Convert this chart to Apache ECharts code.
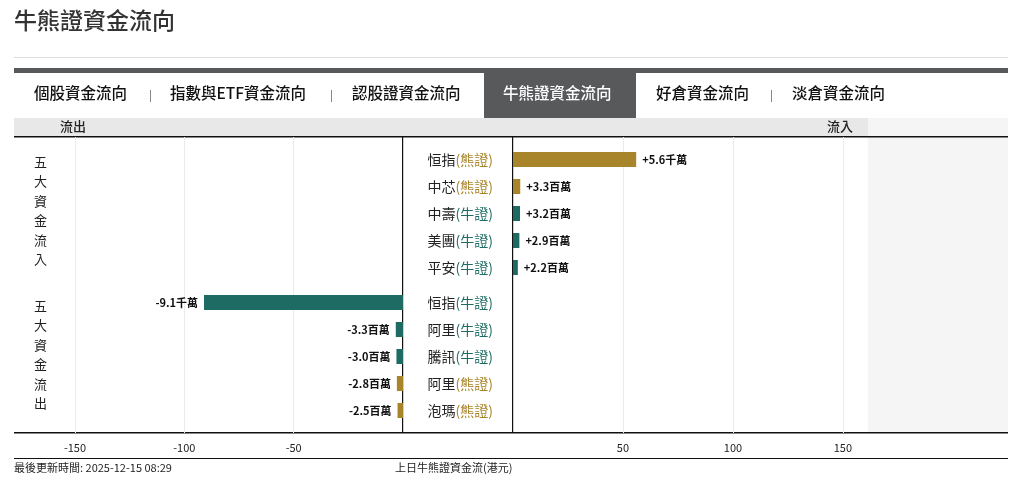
<!DOCTYPE html>
<html><head><meta charset="utf-8">
<script src="https://cdn.jsdelivr.net/npm/echarts@6/dist/echarts.min.js"></script>
<style>body{margin:0;background:#fff}#c{width:1018px;height:499px}</style>
</head><body><div id="c"></div>
<script>
// 五大資金流入 / 流出（單位：百萬港元）
const inNames = ['恒指', '中芯', '中壽', '美團', '平安'];
const inTypes = ['熊證', '熊證', '牛證', '牛證', '牛證'];
const inValues = [56, 3.3, 3.2, 2.9, 2.2];
const inLabels = ['+5.6千萬', '+3.3百萬', '+3.2百萬', '+2.9百萬', '+2.2百萬'];
const outNames = ['恒指', '阿里', '騰訊', '阿里', '泡瑪'];
const outTypes = ['牛證', '牛證', '牛證', '熊證', '熊證'];
const outValues = [-91, -3.3, -3.0, -2.8, -2.5];
const outLabels = ['-9.1千萬', '-3.3百萬', '-3.0百萬', '-2.8百萬', '-2.5百萬'];
const tabs = ['個股資金流向', '指數與ETF資金流向', '認股證資金流向', '牛熊證資金流向', '好倉資金流向', '淡倉資金流向'];

const GOLD = '#a8852a', TEAL = '#1d6b63';
const FONT = '"Noto Sans CJK TC", "Liberation Sans", sans-serif';
const typeColor = (t) => (t === '熊證' ? GOLD : TEAL);
const cats = (names, types) => names.map((n, i) => n + '|' + types[i]);

// 0-3: 資料用, 4-5: 格線與刻度用（全高）
const grids = [
  { left: 75, width: 328, top: 146, height: 135 },
  { left: 75, width: 328, top: 289, height: 135 },
  { left: 513, width: 355, top: 146, height: 135 },
  { left: 513, width: 355, top: 289, height: 135 },
  { left: 75, width: 328, top: 137, height: 296 },
  { left: 513, width: 355, top: 137, height: 296 },
];
const xAxes = grids.map((g, i) => {
  const left = i === 0 || i === 1 || i === 4;
  const frame = i >= 4;
  return {
    gridIndex: i, type: 'value',
    min: left ? -150 : 0, max: left ? 0 : 161.4, interval: 50,
    axisLine: { show: false }, axisTick: { show: false },
    splitLine: { show: frame, showMinLine: left, showMaxLine: false, lineStyle: { color: '#ebebeb' } },
    axisLabel: {
      show: frame, color: '#222', fontSize: 11, fontFamily: FONT, margin: 9,
      showMinLabel: left, showMaxLabel: false,
      formatter: (v) => (v === 0 ? '' : v),
    },
  };
});
const yLabel = {
  align: 'right', margin: 20, fontFamily: FONT,
  formatter: (v) => {
    const [n, t] = v.split('|');
    return '{n|' + n + '}{' + (t === '熊證' ? 'g' : 't') + '|(' + t + ')}';
  },
  rich: {
    n: { color: '#222', fontSize: 14, fontFamily: FONT },
    g: { color: GOLD, fontSize: 14, fontFamily: FONT },
    t: { color: TEAL, fontSize: 14, fontFamily: FONT },
  },
};
const yAxes = [
  { gridIndex: 0, data: cats(outNames, outTypes), show: false },
  { gridIndex: 1, data: cats(outNames, outTypes), show: false },
  { gridIndex: 2, data: cats(inNames, inTypes) },
  { gridIndex: 3, data: cats(outNames, outTypes) },
  { gridIndex: 4, data: [], show: false },
  { gridIndex: 5, data: [], show: false },
].map((y) => ({
  type: 'category', inverse: true, axisLine: { show: false }, axisTick: { show: false },
  axisLabel: yLabel, ...y,
}));

const barSeries = (idx, values, types, labels, pos) => ({
  type: 'bar', xAxisIndex: idx, yAxisIndex: idx, barWidth: 15,
  data: values.map((v, i) => ({ value: v, itemStyle: { color: typeColor(types[i]) } })),
  label: {
    show: true, position: pos, distance: 6, color: '#111', fontWeight: 'bold', fontSize: 11,
    fontFamily: FONT, formatter: (p) => labels[p.dataIndex],
  },
});

const tabX = [34, 170, 352, 503, 656, 792];
const graphic = [
  { type: 'text', left: 14, top: 9, style: { text: '牛熊證資金流向', font: '500 23px ' + FONT, fill: '#333' } },
  { type: 'rect', shape: { x: 14, y: 57, width: 994, height: 1 }, style: { fill: '#ddd' } },
  { type: 'rect', shape: { x: 14, y: 68, width: 994, height: 5 }, style: { fill: '#58595b' } },
  { type: 'rect', shape: { x: 484, y: 73, width: 152, height: 45 }, style: { fill: '#58595b' } },
  { type: 'rect', shape: { x: 14, y: 118, width: 854, height: 19 }, style: { fill: '#e8e8e8' } },
  { type: 'rect', shape: { x: 868, y: 118, width: 140, height: 315 }, style: { fill: '#f5f5f5' } },
  { type: 'rect', shape: { x: 14, y: 136, width: 994, height: 1.5 }, style: { fill: '#111' } },
  { type: 'rect', shape: { x: 14, y: 432, width: 994, height: 1.5 }, style: { fill: '#111' } },
  { type: 'rect', shape: { x: 14, y: 458, width: 994, height: 1 }, style: { fill: '#111' } },
  { type: 'rect', shape: { x: 402, y: 137, width: 1.2, height: 296 }, style: { fill: '#111' } },
  { type: 'rect', shape: { x: 512, y: 137, width: 1.2, height: 296 }, style: { fill: '#111' } },
  { type: 'text', x: 60, y: 120, style: { text: '流出', font: '500 13px ' + FONT, fill: '#222' } },
  { type: 'text', x: 827, y: 120, style: { text: '流入', font: '500 13px ' + FONT, fill: '#222' } },
  { type: 'text', x: 34, y: 152, style: { text: '五\n大\n資\n金\n流\n入', font: '13px ' + FONT, fill: '#222', lineHeight: 19.5 } },
  { type: 'text', x: 34, y: 296, style: { text: '五\n大\n資\n金\n流\n出', font: '13px ' + FONT, fill: '#222', lineHeight: 19.5 } },
  { type: 'text', x: 14, y: 462, style: { text: '最後更新時間: 2025-12-15 08:29', font: '11px ' + FONT, fill: '#222' } },
  { type: 'text', x: 395, y: 462, style: { text: '上日牛熊證資金流(港元)', font: '11px ' + FONT, fill: '#222' } },
];
tabs.forEach((t, i) => {
  graphic.push({ type: 'text', x: tabX[i], y: 85, style: { text: t, font: '500 15.5px ' + FONT, fill: i === 3 ? '#fff' : '#111' } });
});
[150, 331, 771].forEach((x) => {
  graphic.push({ type: 'rect', shape: { x, y: 90, width: 1, height: 12 }, style: { fill: '#888' } });
});

const chart = echarts.init(document.getElementById('c'), null, { renderer: 'canvas' });
chart.setOption({
  animation: false,
  grid: grids,
  xAxis: xAxes,
  yAxis: yAxes,
  series: [
    barSeries(2, inValues, inTypes, inLabels, 'right'),
    barSeries(1, outValues, outTypes, outLabels, 'left'),
  ],
  graphic,
});
</script></body></html>
